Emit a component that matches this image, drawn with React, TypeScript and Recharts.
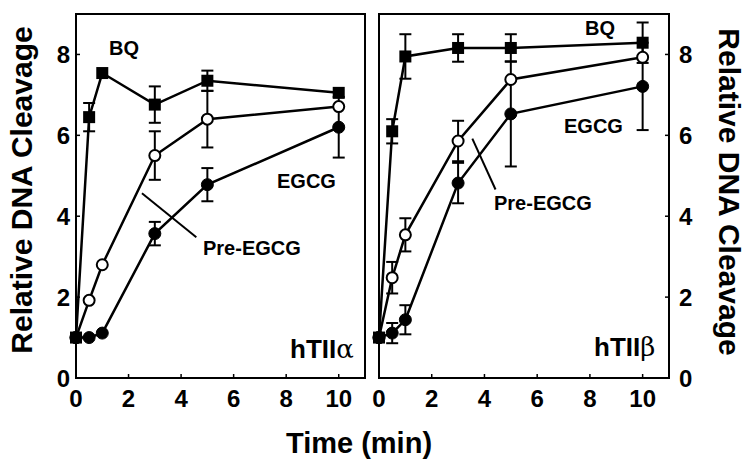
import { LineChart, Line, XAxis, YAxis, ErrorBar, ReferenceArea, ReferenceLine } from 'recharts';

// sampling times (min)
const times = [0, 0.5, 1, 3, 5, 10];
const xTicks = [0, 2, 4, 6, 8, 10];
const yTicks = [0, 2, 4, 6, 8];

// hTIIalpha panel
const alphaBQ = [1.0, 6.45, 7.54, 6.76, 7.35, 7.05];
const alphaBQErr = [0, 0.35, 0, 0.45, 0.25, 0];
const alphaPre = [1.0, 1.92, 2.8, 5.5, 6.4, 6.71];
const alphaPreErr = [0, 0, 0, 0.6, 0.7, 0];
const alphaEGCG = [1.0, 1.0, 1.11, 3.57, 4.78, 6.2];
const alphaEGCGErr = [0, 0, 0, 0.29, 0.41, 0.75];

// hTIIbeta panel
const betaBQ = [1.0, 6.1, 7.95, 8.16, 8.16, 8.29];
const betaBQErr = [0, 0.3, 0.55, 0.34, 0.34, 0.5];
const betaPre = [1.0, 2.48, 3.54, 5.86, 7.38, 7.93];
const betaPreErr = [0, 0.39, 0.41, 0.5, 0, 0];
const betaEGCG = [1.0, 1.11, 1.44, 4.82, 6.53, 7.21];
const betaEGCGErr = [0, 0.25, 0.36, 0.5, 1.3, 1.08];

const font = '"Liberation Sans", Arial, sans-serif';

const buildRows = (bq: number[], bqErr: number[], pre: number[], preErr: number[], egcg: number[], egcgErr: number[]) =>
    times.map((t, i) => ({
        t,
        bq: bq[i], bqErr: bqErr[i],
        pre: pre[i], preErr: preErr[i],
        egcg: egcg[i], egcgErr: egcgErr[i],
    }));

const alphaRows = buildRows(alphaBQ, alphaBQErr, alphaPre, alphaPreErr, alphaEGCG, alphaEGCGErr);
const betaRows = buildRows(betaBQ, betaBQErr, betaPre, betaPreErr, betaEGCG, betaEGCGErr);

const squareDot = (props: any) => (
    <rect key={`sq-${props.index}`} x={props.cx - 6} y={props.cy - 6} width={12} height={12} fill="#000" />
);

// ticks point inward, so draw line + label ourselves
const XTick = (props: any) => {
    const { x, y, payload } = props;
    return (
        <g>
            <line x1={x} y1={y - 12} x2={x} y2={y - 16} stroke="#000" strokeWidth={1.5} />
            <text x={x} y={y} dy="0.71em" textAnchor="middle" fontSize={24} fontWeight="bold" fontFamily={font} fill="#000">
                {payload.value}
            </text>
        </g>
    );
};

const LeftYTick = (props: any) => {
    const { x, y, payload } = props;
    return (
        <g>
            <line x1={x + 6} y1={y} x2={x + 10} y2={y} stroke="#000" strokeWidth={1.5} />
            <text x={x} y={y} dy="0.355em" textAnchor="end" fontSize={24} fontWeight="bold" fontFamily={font} fill="#000">
                {payload.value}
            </text>
        </g>
    );
};

const RightYTick = (props: any) => {
    const { x, y, payload } = props;
    return (
        <g>
            <line x1={x - 10} y1={y} x2={x - 14} y2={y} stroke="#000" strokeWidth={1.5} />
            <text x={x} y={y} dy="0.355em" textAnchor="start" fontSize={24} fontWeight="bold" fontFamily={font} fill="#000">
                {payload.value}
            </text>
        </g>
    );
};

interface PanelProps {
    rows: any[];
    side: 'left' | 'right';
    pointer: { x1: number; y1: number; x2: number; y2: number };
    labels: { text: string; x: number; y: number }[];
    tag: { x: number; y: number; greek: string };
}

function Panel({ rows, side, pointer, labels, tag }: PanelProps) {
    const isLeft = side === 'left';
    // right panel svg starts 20px further left so its "0" tick label is not clipped
    const margin = isLeft
        ? { top: 14, right: 11, bottom: 61, left: 0 }
        : { top: 14, right: 53, bottom: 61, left: 23 };
    return (
        <LineChart width={isLeft ? 376 : 396} height={469} data={rows} margin={margin}>
            <XAxis
                dataKey="t"
                type="number"
                domain={[0, 11]}
                ticks={xTicks}
                height={30}
                axisLine={false}
                tickLine={false}
                tickSize={0}
                tickMargin={12}
                tick={<XTick />}
                interval={0}
            />
            <YAxis
                orientation={side}
                type="number"
                domain={[0, 9]}
                ticks={yTicks}
                width={isLeft ? 76 : 30}
                axisLine={false}
                tickLine={false}
                tickSize={0}
                tickMargin={isLeft ? 6 : 10}
                tick={isLeft ? <LeftYTick /> : <RightYTick />}
                interval={0}
                allowDataOverflow
            />
            <ReferenceArea x1={0} x2={11} y1={0} y2={9} fill="none" fillOpacity={0} stroke="#000" strokeWidth={2} />
            <ReferenceLine
                segment={[{ x: pointer.x1, y: pointer.y1 }, { x: pointer.x2, y: pointer.y2 }]}
                stroke="#000"
                strokeWidth={2}
            />
            <Line dataKey="egcg" stroke="#000" strokeWidth={2.5} isAnimationActive={false}
                dot={{ r: 6, fill: '#000', stroke: '#000', strokeWidth: 1 }}>
                <ErrorBar dataKey="egcgErr" width={6} stroke="#000" strokeWidth={2} direction="y" />
            </Line>
            <Line dataKey="pre" stroke="#000" strokeWidth={2.5} isAnimationActive={false}
                dot={{ r: 5.5, fill: '#fff', stroke: '#000', strokeWidth: 2 }}>
                <ErrorBar dataKey="preErr" width={6} stroke="#000" strokeWidth={2} direction="y" />
            </Line>
            <Line dataKey="bq" stroke="#000" strokeWidth={2.5} isAnimationActive={false} dot={squareDot}>
                <ErrorBar dataKey="bqErr" width={6} stroke="#000" strokeWidth={2} direction="y" />
            </Line>
            {labels.map((l) => (
                <text key={l.text} x={l.x} y={l.y} fontSize={20} fontWeight="bold" fontFamily={font} fill="#000">
                    {l.text}
                </text>
            ))}
            <text x={tag.x} y={tag.y} fontSize={26} fontWeight="bold" fontFamily={font} fill="#000">
                hTII<tspan fontWeight="normal" fontFamily='"DejaVu Serif", serif'>{tag.greek}</tspan>
            </text>
        </LineChart>
    );
}

export default function App() {
    return (
        <div style={{ position: 'absolute', left: 0, top: 0, width: 752, height: 469, background: '#fff' }}>
            <div style={{ position: 'absolute', left: 0, top: 0 }}>
                <Panel
                    rows={alphaRows}
                    side="left"
                    pointer={{ x1: 2.51, y1: 4.57, x2: 4.58, y2: 3.48 }}
                    labels={[
                        { text: 'BQ', x: 109, y: 55 },
                        { text: 'EGCG', x: 277, y: 188 },
                        { text: 'Pre-EGCG', x: 203, y: 255 },
                    ]}
                    tag={{ x: 290, y: 358, greek: 'α' }}
                />
            </div>
            <div style={{ position: 'absolute', left: 356, top: 0 }}>
                <Panel
                    rows={betaRows}
                    side="right"
                    pointer={{ x1: 3.54, y1: 5.92, x2: 4.42, y2: 4.66 }}
                    labels={[
                        { text: 'BQ', x: 229, y: 35 },
                        { text: 'EGCG', x: 208, y: 133 },
                        { text: 'Pre-EGCG', x: 138, y: 210 },
                    ]}
                    tag={{ x: 238, y: 356, greek: 'β' }}
                />
            </div>
            <svg width={752} height={469} style={{ position: 'absolute', left: 0, top: 0, pointerEvents: 'none' }}>
                <text x={32} y={190} transform="rotate(-90, 32, 190)" textAnchor="middle"
                    fontSize={30} fontWeight="bold" fontFamily={font} fill="#000">
                    Relative DNA Cleavage
                </text>
                <text x={719} y={192} transform="rotate(90, 719, 192)" textAnchor="middle"
                    fontSize={30} fontWeight="bold" fontFamily={font} fill="#000">
                    Relative DNA Cleavage
                </text>
                <text x={359} y={453} textAnchor="middle" fontSize={29} fontWeight="bold" fontFamily={font} fill="#000">
                    Time (min)
                </text>
            </svg>
        </div>
    );
}
